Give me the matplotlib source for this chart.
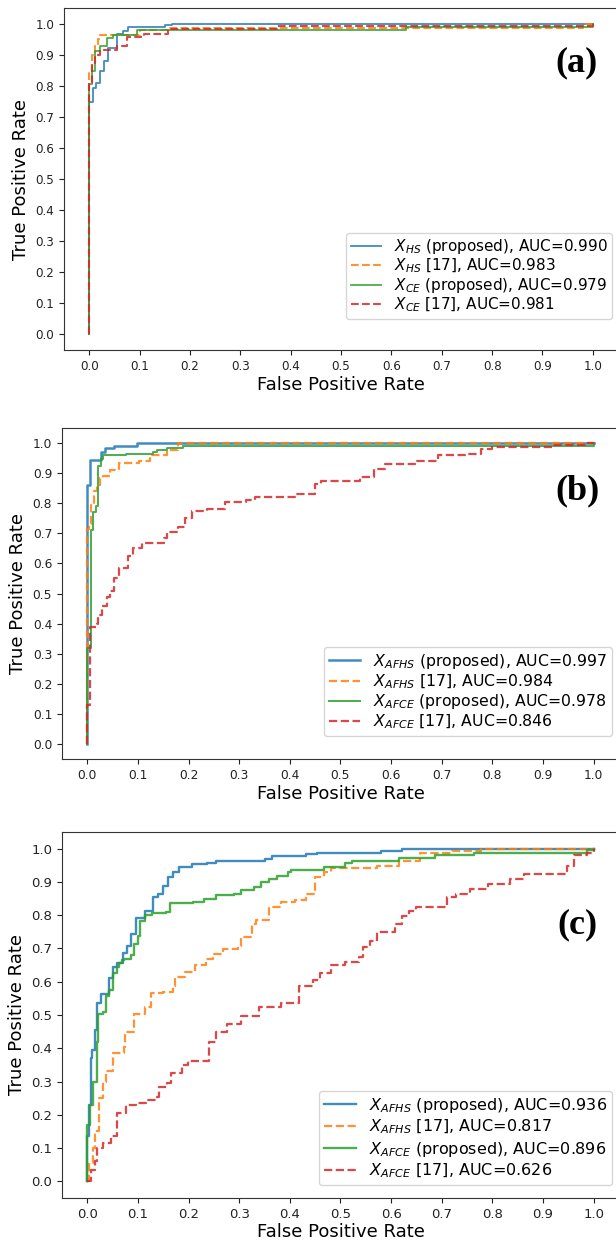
import matplotlib.pyplot as plt
import numpy as np

ticks = np.round(np.arange(0, 1.01, 0.1), 1)
tick_labels = [f"{t:.1f}" for t in ticks]

# ---- panel (a): X_HS / X_CE ----
a_hs_prop_fpr = [0, 0, 0.0066, 0.013, 0.022, 0.030, 0.037, 0.055, 0.068, 0.078, 0.151, 0.164, 1.0]
a_hs_prop_tpr = [0, 0.747, 0.793, 0.81, 0.847, 0.88, 0.92, 0.966, 0.976, 0.988, 0.995, 1.0, 1.0]
a_hs_ref_fpr = [0, 0, 0.005, 0.011, 0.018, 0.022, 0.10, 0.16, 0.98, 1.0]
a_hs_ref_tpr = [0, 0.847, 0.90, 0.93, 0.949, 0.962, 0.98, 0.987, 1.0, 1.0]
a_ce_prop_fpr = [0, 0, 0.0053, 0.012, 0.022, 0.035, 0.048, 0.095, 0.63, 1.0, 1.0]
a_ce_prop_tpr = [0, 0.804, 0.847, 0.912, 0.927, 0.952, 0.962, 0.978, 0.99, 0.99, 1.0]
a_ce_ref_fpr = [0, 0, 0.005, 0.012, 0.022, 0.055, 0.075, 0.108, 0.157, 0.372, 1.0, 1.0]
a_ce_ref_tpr = [0, 0.81, 0.87, 0.90, 0.915, 0.927, 0.958, 0.966, 0.982, 0.993, 0.993, 1.0]
a_labels = [r"$X_{HS}$ (proposed), AUC=0.990", r"$X_{HS}$ [17], AUC=0.983",
            r"$X_{CE}$ (proposed), AUC=0.979", r"$X_{CE}$ [17], AUC=0.981"]

# ---- panel (b): X_AFHS / X_AFCE ----
b_hs_prop_fpr = [0, 0, 0.005, 0.028, 0.035, 0.052, 0.098, 1.0]
b_hs_prop_tpr = [0, 0.86, 0.945, 0.97, 0.985, 0.992, 1.0, 1.0]
b_hs_ref_fpr = [0, 0, 0.003, 0.008, 0.013, 0.019, 0.026, 0.032, 0.045, 0.062, 0.102, 0.123, 0.158, 0.179, 1.0]
b_hs_ref_tpr = [0, 0.716, 0.73, 0.80, 0.84, 0.86, 0.885, 0.89, 0.91, 0.935, 0.94, 0.96, 0.976, 1.0, 1.0]
b_ce_prop_fpr = [0, 0, 0.0067, 0.012, 0.017, 0.022, 0.028, 0.031, 0.077, 0.13, 0.137, 0.158, 0.19, 1.0, 1.0]
b_ce_prop_tpr = [0, 0.32, 0.71, 0.77, 0.79, 0.925, 0.948, 0.96, 0.963, 0.97, 0.976, 0.983, 0.99, 0.99, 1.0]
b_ce_ref_fpr = [0, 0, 0.0045, 0.019, 0.022, 0.030, 0.038, 0.045, 0.052, 0.063,
                0.081, 0.091, 0.109, 0.151, 0.158, 0.179, 0.193, 0.207, 0.236, 0.271,
                0.313, 0.331, 0.412, 0.45, 0.461, 0.538, 0.567, 0.588, 0.651, 0.693,
                0.75, 0.778, 0.80, 0.919, 0.982, 1.0]
b_ce_ref_tpr = [0, 0.13, 0.39, 0.40, 0.43, 0.46, 0.487, 0.51, 0.553, 0.585,
                0.624, 0.651, 0.667, 0.684, 0.705, 0.72, 0.75, 0.773, 0.78, 0.805,
                0.81, 0.82, 0.83, 0.865, 0.875, 0.887, 0.914, 0.931, 0.942, 0.96,
                0.965, 0.981, 0.987, 0.994, 1.0, 1.0]
b_labels = [r"$X_{AFHS}$ (proposed), AUC=0.997", r"$X_{AFHS}$ [17], AUC=0.984",
            r"$X_{AFCE}$ (proposed), AUC=0.978", r"$X_{AFCE}$ [17], AUC=0.846"]

# ---- panel (c): X_AFHS / X_AFCE ----
c_hs_prop_fpr = [0, 0, 0.004, 0.007, 0.009, 0.0145, 0.019, 0.0265, 0.0435, 0.05, 0.058, 0.07,
                 0.079, 0.086, 0.096, 0.114, 0.129, 0.139, 0.149, 0.16, 0.17, 0.181, 0.206,
                 0.237, 0.255, 0.351, 0.365, 0.432, 0.453, 0.58, 0.622, 1.0]
c_hs_prop_tpr = [0, 0.135, 0.23, 0.37, 0.395, 0.454, 0.537, 0.562, 0.61, 0.645, 0.655, 0.686,
                 0.708, 0.743, 0.792, 0.813, 0.855, 0.865, 0.889, 0.914, 0.929, 0.946, 0.954,
                 0.958, 0.963, 0.97, 0.977, 0.985, 0.987, 0.992, 1.0, 1.0]
c_hs_ref_fpr = [0, 0.004, 0.012, 0.015, 0.023, 0.031, 0.036, 0.051, 0.072, 0.075,
                0.093, 0.114, 0.125, 0.149, 0.17, 0.174, 0.192, 0.213, 0.234, 0.248,
                0.269, 0.297, 0.304, 0.326, 0.333, 0.358, 0.382, 0.41, 0.432, 0.449,
                0.467, 0.481, 0.573, 0.615, 0.657, 0.721, 0.777, 1.0]
c_hs_ref_tpr = [0, 0.055, 0.10, 0.15, 0.25, 0.30, 0.332, 0.385, 0.405, 0.449,
                0.503, 0.523, 0.567, 0.57, 0.586, 0.615, 0.63, 0.65, 0.669, 0.684,
                0.699, 0.708, 0.733, 0.772, 0.787, 0.826, 0.84, 0.845, 0.865, 0.914,
                0.929, 0.943, 0.948, 0.963, 0.987, 0.992, 1.0, 1.0]
c_ce_prop_fpr = [0, 0, 0.006, 0.012, 0.019, 0.021, 0.032, 0.036, 0.0435, 0.051,
                 0.058, 0.063, 0.068, 0.072, 0.086, 0.093, 0.1, 0.104, 0.114, 0.128,
                 0.156, 0.163, 0.209, 0.23, 0.255, 0.29, 0.304, 0.329, 0.343, 0.358,
                 0.375, 0.396, 0.403, 0.467, 0.509, 0.523, 0.615, 0.686, 0.763, 0.986, 1.0]
c_ce_prop_tpr = [0, 0.17, 0.23, 0.30, 0.42, 0.503, 0.508, 0.557, 0.576, 0.625,
                 0.645, 0.655, 0.664, 0.669, 0.679, 0.713, 0.738, 0.782, 0.80, 0.806,
                 0.811, 0.836, 0.84, 0.85, 0.86, 0.865, 0.875, 0.885, 0.90, 0.909,
                 0.919, 0.929, 0.936, 0.946, 0.958, 0.963, 0.973, 0.98, 0.987, 0.997, 1.0]
c_ce_ref_fpr = [0, 0.002, 0.008, 0.015, 0.019, 0.031, 0.046, 0.058, 0.077, 0.096,
                0.115, 0.135, 0.142, 0.158, 0.165, 0.188, 0.198, 0.241, 0.255, 0.276,
                0.304, 0.34, 0.382, 0.418, 0.446, 0.46, 0.481, 0.509, 0.537, 0.544,
                0.558, 0.573, 0.608, 0.622, 0.636, 0.65, 0.71, 0.728, 0.756, 0.792,
                0.834, 0.862, 0.947, 0.961, 0.986, 1.0]
c_ce_ref_tpr = [0, 0, 0.035, 0.06, 0.10, 0.115, 0.135, 0.205, 0.23, 0.235,
                0.245, 0.255, 0.285, 0.295, 0.325, 0.351, 0.361, 0.42, 0.449, 0.474,
                0.498, 0.523, 0.537, 0.586, 0.606, 0.625, 0.65, 0.66, 0.674, 0.703,
                0.723, 0.748, 0.772, 0.797, 0.813, 0.824, 0.855, 0.865, 0.88, 0.894,
                0.909, 0.924, 0.948, 0.982, 0.987, 1.0]
c_labels = [r"$X_{AFHS}$ (proposed), AUC=0.936", r"$X_{AFHS}$ [17], AUC=0.817",
            r"$X_{AFCE}$ (proposed), AUC=0.896", r"$X_{AFCE}$ [17], AUC=0.626"]

colors = ["#1f77b4", "#ff7f0e", "#2ca02c", "#d62728"]
styles = ["-", "--", "-", "--"]

fig = plt.figure(figsize=(6.16, 12.47), dpi=100)

# axes rectangles in figure fraction (right spine falls just outside the image)
panels = [
    dict(rect=[0.1039, 0.7193, 0.8994, 0.2743], tag="(a)", tag_xy=(0.964, 0.839),
         curves=[(a_hs_prop_fpr, a_hs_prop_tpr), (a_hs_ref_fpr, a_hs_ref_tpr),
                 (a_ce_prop_fpr, a_ce_prop_tpr), (a_ce_ref_fpr, a_ce_ref_tpr)],
         labels=a_labels, lws=[1.3, 1.5, 1.3, 1.5], leg_anchor=(0.989, 0.091),
         leg_fs=11.0, leg_sp=0.05, tick_fs=8.6),
    dict(rect=[0.1006, 0.3913, 0.9042, 0.2654], tag="(b)", tag_xy=(0.966, 0.81),
         curves=[(b_hs_prop_fpr, b_hs_prop_tpr), (b_hs_ref_fpr, b_hs_ref_tpr),
                 (b_ce_prop_fpr, b_ce_prop_tpr), (b_ce_ref_fpr, b_ce_ref_tpr)],
         labels=b_labels, lws=[1.8, 1.6, 1.4, 1.6], leg_anchor=(0.987, 0.0695),
         leg_fs=11.3, leg_sp=0.1, tick_fs=8.8),
    dict(rect=[0.1006, 0.0393, 0.9042, 0.2935], tag="(c)", tag_xy=(0.962, 0.746),
         curves=[(c_hs_prop_fpr, c_hs_prop_tpr), (c_hs_ref_fpr, c_hs_ref_tpr),
                 (c_ce_prop_fpr, c_ce_prop_tpr), (c_ce_ref_fpr, c_ce_ref_tpr)],
         labels=c_labels, lws=[1.7, 1.6, 1.7, 1.6], leg_anchor=(0.987, 0.0355),
         leg_fs=11.5, leg_sp=0.2, tick_fs=9.5),
]

for p in panels:
    ax = fig.add_axes(p["rect"])
    for (fpr, tpr), c, ls, lab, lw in zip(p["curves"], colors, styles, p["labels"], p["lws"]):
        ax.plot(fpr, tpr, color=c, ls=ls, lw=lw, alpha=0.85, drawstyle="steps-post", label=lab)
    ax.set_xlim(-0.05, 1.05)
    ax.set_ylim(-0.05, 1.05)
    ax.set_xticks(ticks)
    ax.set_xticklabels(tick_labels)
    ax.set_yticks(ticks)
    ax.set_yticklabels(tick_labels)
    ax.tick_params(labelsize=p["tick_fs"], colors="#222222")
    for s in ax.spines.values():
        s.set_color("#333333")
    ax.set_xlabel("False Positive Rate", fontsize=13, labelpad=2)
    ax.set_ylabel("True Positive Rate", fontsize=13, labelpad=4)
    ax.legend(loc="lower right", bbox_to_anchor=p["leg_anchor"], borderaxespad=0,
              fontsize=p["leg_fs"], labelspacing=p["leg_sp"], handlelength=2.0,
              handletextpad=0.8, borderpad=0.3)
    ax.text(p["tag_xy"][0], p["tag_xy"][1], p["tag"], transform=ax.transAxes,
            ha="right", va="center", fontsize=26, fontweight="bold",
            family="Liberation Serif")

fig.savefig("out.png", dpi=100)
